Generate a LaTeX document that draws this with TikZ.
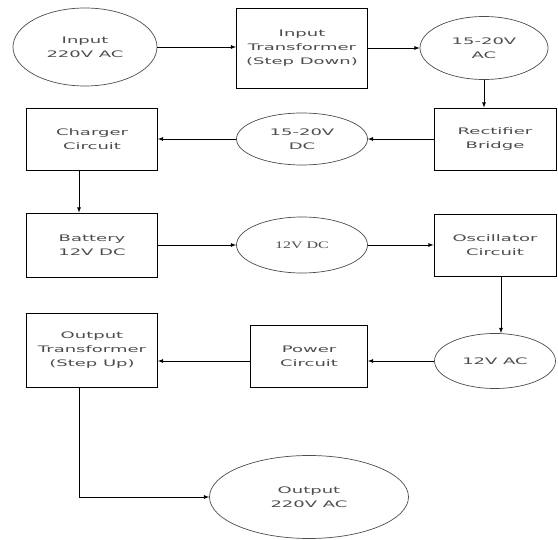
\documentclass[tikz,border=0pt]{standalone}
\usepackage{fontspec}
\usepackage{tikz}
\usetikzlibrary{shapes.geometric}
\newfontfamily\wideface[FakeStretch=2.0]{DejaVu Sans}
\newfontfamily\wideserif[FakeStretch=1.6]{Liberation Serif}

\begin{document}
\begin{tikzpicture}[x=1pt,y=1pt,
  blk/.style={draw=black, line width=0.8pt, rectangle, inner sep=0pt, align=center,
    font=\wideface\fontsize{9}{14}\selectfont, text=black!70},
  lvl/.style={draw=black!70, line width=0.7pt, ellipse, inner sep=0pt, align=center,
    font=\wideface\fontsize{9}{14}\selectfont, text=black!70},
  arr/.style={->, >=latex, line width=0.8pt}]
\useasboundingbox (0,0) rectangle (558,-540);
% first row
\node[lvl, minimum width=144, minimum height=78] (inp) at (85,-47) {Input\\220V AC};
\node[blk, minimum width=131, minimum height=80] (itr) at (302,-48) {Input\\Transformer\\(Step Down)};
\node[lvl, minimum width=128, minimum height=63] (acl) at (484,-48) {15-20V\\AC};
% second row
\node[blk, minimum width=131, minimum height=62] (chg) at (92,-139) {Charger\\Circuit};
\node[lvl, minimum width=131, minimum height=52] (dcl) at (302,-139) {15-20V\\DC};
\node[blk, minimum width=122, minimum height=62] (rec) at (495,-139) {Rectifier\\Bridge};
% third row
\node[blk, minimum width=131, minimum height=64] (bat) at (92,-245) {Battery\\12V DC};
\node[lvl, minimum width=131, minimum height=56, font=\wideserif\fontsize{10}{14}\selectfont] (dcm) at (302,-245) {12V DC};
\node[blk, minimum width=122, minimum height=62] (osc) at (495,-245) {Oscillator\\Circuit};
% fourth row
\node[blk, minimum width=131, minimum height=74] (otr) at (92,-350) {Output\\Transformer\\(Step Up)};
\node[blk, minimum width=117, minimum height=62] (pwr) at (309,-356) {Power\\Circuit};
\node[lvl, minimum width=121, minimum height=55] (acm) at (495,-361) {12V AC};
\node[lvl, minimum width=199, minimum height=83] (out) at (309,-497) {Output\\220V AC};
% connections
\draw[arr] (inp.east) -- (itr.west |- inp.east);
\draw[arr] (itr.east) -- (acl.west);
\draw[arr] (acl.south) -- (acl.south |- rec.north);
\draw[arr] (rec.west) -- (dcl.east);
\draw[arr] (dcl.west) -- (chg.east);
\draw[arr] ([xshift=-13]chg.south) -- ([xshift=-13]bat.north);
\draw[arr] (bat.east) -- (dcm.west);
\draw[arr] (dcm.east) -- (osc.west);
\draw[arr] ([xshift=6]osc.south) -- ([xshift=6]osc.south |- acm.north);
\draw[arr] (acm.west) -- (acm.west -| pwr.east);
\draw[arr] (pwr.west |- acm.west) -- (acm.west -| otr.east);
\draw[arr] ([xshift=-13]otr.south) |- (out.west);
\end{tikzpicture}
\end{document}
